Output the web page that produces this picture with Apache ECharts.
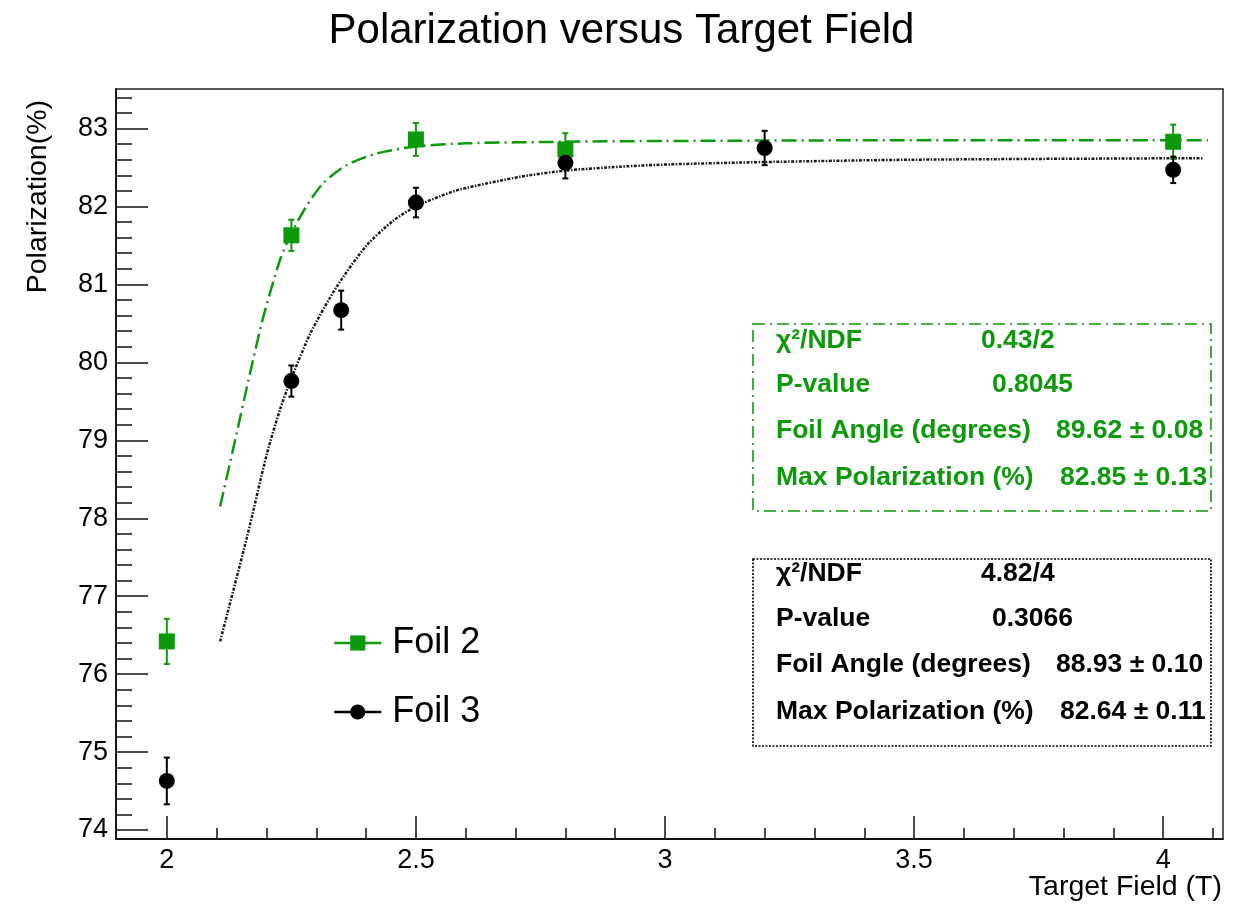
<!DOCTYPE html>
<html>
<head>
<meta charset="utf-8">
<title>Polarization versus Target Field</title>
<script src="https://cdn.jsdelivr.net/npm/echarts@6/dist/echarts.min.js"></script>
<style>
  html, body { margin: 0; padding: 0; background: #ffffff; }
  #chart { width: 1243px; height: 906px; }
</style>
</head>
<body>
<div id="chart"></div>
<script>
// Measured points (target field in T, polarization in %, error in %)
const fieldFoil2 = [2.0, 2.25, 2.5, 2.8, 4.02];
const polFoil2   = [76.42, 81.63, 82.86, 82.73, 82.83];
const errFoil2   = [0.29, 0.20, 0.21, 0.21, 0.22];

const fieldFoil3 = [2.0, 2.25, 2.35, 2.5, 2.8, 3.2, 4.02];
const polFoil3   = [74.63, 79.76, 80.67, 82.05, 82.56, 82.75, 82.47];
const errFoil3   = [0.30, 0.20, 0.25, 0.19, 0.20, 0.22, 0.17];

// Fitted curves
const fitField2 = [2.107, 2.137, 2.167, 2.194, 2.227, 2.248, 2.278, 2.314, 2.361, 2.421, 2.5, 2.6, 2.8, 3.0, 3.5, 4.09];
const fitPol2   = [78.15, 79.00, 79.86, 80.59, 81.31, 81.63, 81.98, 82.30, 82.53, 82.68, 82.77, 82.81, 82.83, 82.84, 82.85, 82.85];

const fitField3 = [2.107, 2.161, 2.201, 2.227, 2.248, 2.288, 2.341, 2.401, 2.455, 2.5, 2.548, 2.589, 2.709, 2.8, 2.91, 3.01, 3.2, 3.5, 4.08];
const fitPol3   = [76.42, 77.76, 78.83, 79.39, 79.76, 80.37, 80.97, 81.50, 81.82, 82.00, 82.13, 82.22, 82.38, 82.46, 82.51, 82.54, 82.57, 82.60, 82.62];

// Axis ticks
const xMajorTicks = [2, 2.5, 3, 3.5, 4];
const xMinorTicks = [2.1, 2.2, 2.3, 2.4, 2.6, 2.7, 2.8, 2.9, 3.1, 3.2, 3.3, 3.4, 3.6, 3.7, 3.8, 3.9, 4.1];
const yMajorTicks = [74, 75, 76, 77, 78, 79, 80, 81, 82, 83];
const yMinorTicks = [74.2, 74.4, 74.6, 74.8, 75.2, 75.4, 75.6, 75.8, 76.2, 76.4, 76.6, 76.8,
                     77.2, 77.4, 77.6, 77.8, 78.2, 78.4, 78.6, 78.8, 79.2, 79.4, 79.6, 79.8,
                     80.2, 80.4, 80.6, 80.8, 81.2, 81.4, 81.6, 81.8, 82.2, 82.4, 82.6, 82.8, 83.2, 83.4];

// Fit summaries
const statsFoil2 = [['χ²/NDF', '0.43/2'], ['P-value', '0.8045'], ['Foil Angle (degrees)', '89.62 ± 0.08'], ['Max Polarization (%)', '82.85 ± 0.13']];
const statsFoil3 = [['χ²/NDF', '4.82/4'], ['P-value', '0.3066'], ['Foil Angle (degrees)', '88.93 ± 0.10'], ['Max Polarization (%)', '82.64 ± 0.11']];

const GREEN = '#0c990c';
const BLACK = '#000000';
const FONT = '"Liberation Sans", Arial, Helvetica, sans-serif';

const X_MIN = 1.898, X_MAX = 4.12;
const Y_MIN = 73.885, Y_MAX = 83.507;

const zip2 = (a, b) => a.map((v, i) => [v, b[i]]);
const zip3 = (a, b, c) => a.map((v, i) => [v, b[i], c[i]]);

function errorBars(color) {
  return function (params, api) {
    const x = api.value(0), y = api.value(1), e = api.value(2);
    const top = api.coord([x, y + e]);
    const bot = api.coord([x, y - e]);
    const cap = 3;
    const style = { stroke: color, lineWidth: 2, fill: null };
    return {
      type: 'group',
      children: [
        { type: 'line', shape: { x1: top[0], y1: top[1], x2: bot[0], y2: bot[1] }, style: style },
        { type: 'line', shape: { x1: top[0] - cap, y1: top[1], x2: top[0] + cap, y2: top[1] }, style: style },
        { type: 'line', shape: { x1: bot[0] - cap, y1: bot[1], x2: bot[0] + cap, y2: bot[1] }, style: style }
      ]
    };
  };
}

// Stat box: frame plus four label/value rows
function statBox(rows, color, boxTop, lineDash, rowCenters) {
  const valueX = [981, 992, 1056, 1060];
  const els = [{
    type: 'rect',
    shape: { x: 753, y: boxTop, width: 458, height: 187 },
    style: { fill: null, stroke: color, lineWidth: 1.6, lineDash: lineDash },
    z: 5
  }];
  rows.forEach((r, i) => {
    const textStyle = { fill: color, font: 'bold 26.5px ' + FONT, verticalAlign: 'middle', align: 'left' };
    els.push({ type: 'text', x: 776, y: rowCenters[i], style: Object.assign({ text: r[0] }, textStyle), z: 6 });
    els.push({ type: 'text', x: valueX[i], y: rowCenters[i], style: Object.assign({ text: r[1] }, textStyle), z: 6 });
  });
  return els;
}

const chart = echarts.init(document.getElementById('chart'), null, { renderer: 'canvas' });

const option = {
  animation: false,
  backgroundColor: '#ffffff',
  textStyle: { fontFamily: FONT },
  title: {
    text: 'Polarization versus Target Field',
    left: 'center',
    top: 10,
    padding: 0,
    textStyle: { fontSize: 42, fontWeight: 'normal', color: '#000', fontFamily: FONT }
  },
  legend: {
    orient: 'vertical',
    left: 333,
    top: 623,
    padding: 0,
    itemWidth: 47,
    itemHeight: 19,
    itemGap: 29,
    data: ['Foil 2', 'Foil 3'],
    lineStyle: { width: 2.5 },
    textStyle: { fontSize: 36, color: '#000', lineHeight: 40, padding: [0, 0, 0, 6], fontFamily: FONT }
  },
  grid: {
    left: 116, right: 20, top: 89, bottom: 67,
    show: true, borderColor: '#222', borderWidth: 1.5, backgroundColor: 'transparent'
  },
  xAxis: [
    {
      type: 'value', min: X_MIN, max: X_MAX, position: 'bottom',
      axisLine: { show: true, onZero: false, lineStyle: { color: '#111', width: 1.8 } },
      axisTick: { show: true, inside: true, length: 23, customValues: xMajorTicks, lineStyle: { color: '#111', width: 1.5 } },
      axisLabel: { show: true, customValues: xMajorTicks, fontSize: 27, color: '#000', margin: 8, fontFamily: FONT },
      splitLine: { show: false }
    },
    {
      type: 'value', min: X_MIN, max: X_MAX, position: 'bottom',
      axisLine: { show: false, onZero: false },
      axisTick: { show: true, inside: true, length: 11, customValues: xMinorTicks, lineStyle: { color: '#111', width: 1.5 } },
      axisLabel: { show: false },
      splitLine: { show: false }
    }
  ],
  yAxis: [
    {
      type: 'value', min: Y_MIN, max: Y_MAX, position: 'left',
      axisLine: { show: true, onZero: false, lineStyle: { color: '#111', width: 1.8 } },
      axisTick: { show: true, inside: true, length: 32, customValues: yMajorTicks, lineStyle: { color: '#111', width: 1.5 } },
      axisLabel: { show: true, customValues: yMajorTicks, fontSize: 27, color: '#000', margin: 8, fontFamily: FONT },
      splitLine: { show: false }
    },
    {
      type: 'value', min: Y_MIN, max: Y_MAX, position: 'left',
      axisLine: { show: false, onZero: false },
      axisTick: { show: true, inside: true, length: 16, customValues: yMinorTicks, lineStyle: { color: '#111', width: 1.5 } },
      axisLabel: { show: false },
      splitLine: { show: false }
    }
  ],
  series: [
    {
      name: 'Foil 2 fit', type: 'line', data: zip2(fitField2, fitPol2),
      smooth: 0.25, showSymbol: false, symbol: 'none',
      lineStyle: { color: GREEN, width: 2.5, type: [15, 5, 2, 5] }, z: 2, silent: true
    },
    {
      name: 'Foil 3 fit', type: 'line', data: zip2(fitField3, fitPol3),
      smooth: 0.25, showSymbol: false, symbol: 'none',
      lineStyle: { color: '#1a1a1a', width: 2.5, type: [3, 1.5, 1.5, 1.5] }, z: 2, silent: true
    },
    {
      name: 'Foil 2 errors', type: 'custom', renderItem: errorBars(GREEN),
      data: zip3(fieldFoil2, polFoil2, errFoil2), encode: { x: 0, y: 1 }, z: 3, silent: true
    },
    {
      name: 'Foil 3 errors', type: 'custom', renderItem: errorBars(BLACK),
      data: zip3(fieldFoil3, polFoil3, errFoil3), encode: { x: 0, y: 1 }, z: 3, silent: true
    },
    {
      name: 'Foil 2', type: 'line', data: zip2(fieldFoil2, polFoil2),
      symbol: 'rect', symbolSize: 16, showSymbol: true,
      itemStyle: { color: GREEN }, lineStyle: { color: GREEN, width: 0 }, z: 4
    },
    {
      name: 'Foil 3', type: 'line', data: zip2(fieldFoil3, polFoil3),
      symbol: 'circle', symbolSize: 16, showSymbol: true,
      itemStyle: { color: BLACK }, lineStyle: { color: BLACK, width: 0 }, z: 4
    }
  ],
  graphic: [].concat(
    [{
      type: 'text', x: 38, y: 100, rotation: Math.PI / 2,
      style: { text: 'Polarization(%)', font: '28.5px ' + FONT, fill: '#000', align: 'right', verticalAlign: 'middle' }
    },
    {
      type: 'text', x: 1222, y: 887,
      style: { text: 'Target Field (T)', font: '28.5px ' + FONT, fill: '#000', align: 'right', verticalAlign: 'middle' }
    }],
    statBox(statsFoil2, GREEN, 324, [12, 5, 2, 5], [341, 385, 431, 478]),
    statBox(statsFoil3, BLACK, 559, [2, 1.5], [574, 619, 665, 712])
  )
};

chart.setOption(option);
</script>
</body>
</html>
